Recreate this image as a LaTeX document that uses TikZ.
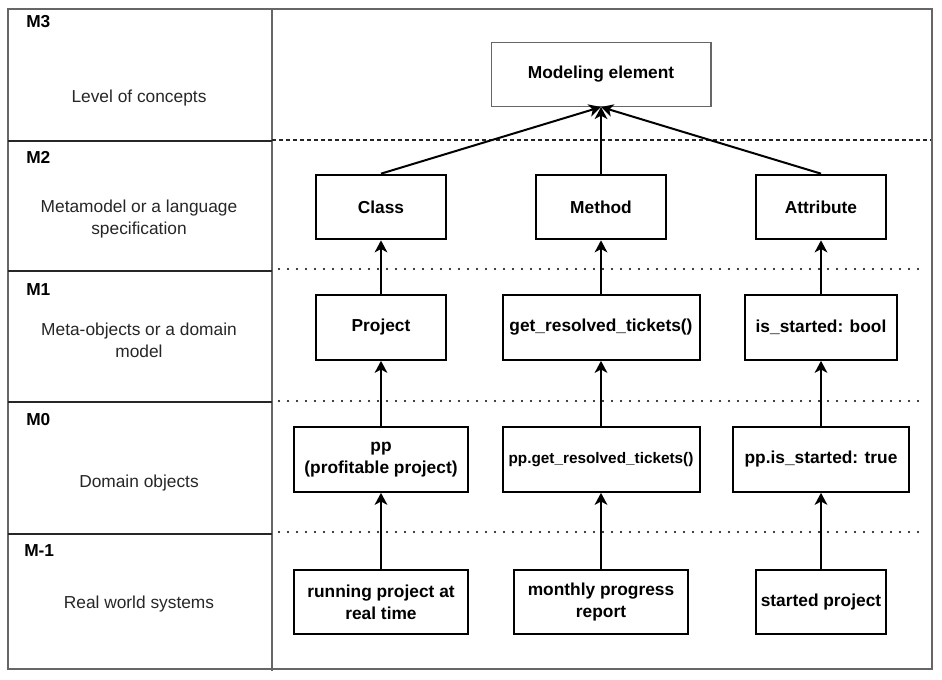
\documentclass[tikz,border=0pt]{standalone}
\usepackage{fontspec}
\setmainfont{Liberation Sans}
\usetikzlibrary{arrows.meta}

\begin{document}
\begin{tikzpicture}[x=0.75pt,y=-0.75pt,
    every node/.style={font=\fontsize{13}{16.5}\selectfont, align=center},
    level/.style={font=\fontsize{13}{16.5}\selectfont\bfseries, anchor=west, inner sep=0pt},
    desc/.style={text=black!85},
    elem/.style={draw, line width=1.5pt, minimum width=97.5pt, minimum height=48.5pt, inner sep=2pt,
        font=\fontsize{13}{16.5}\selectfont\bfseries},
    topelem/.style={elem, draw=black!60, line width=1pt, minimum width=164.75pt, minimum height=47.75pt},
    frame/.style={draw=black!60, line width=1pt},
    rowline/.style={draw=black!85, line width=1pt},
    dashsep/.style={draw=black!85, line width=0.8pt, dash pattern=on 3pt off 2.25pt},
    dotsep/.style={draw=black, line width=1.8pt, line cap=round, dash pattern=on 0pt off 6.75pt},
    arr/.style={draw, line width=1.5pt, -{Stealth[length=9pt, width=9.5pt, inset=2.5pt]}}]
    \useasboundingbox (0,0) rectangle (942,679);

    % frame and level rows
    \path[frame] (8,9) rectangle (932,669);
    \path[frame] (272,9) -- (272,671);
    \path[rowline] (8,141) -- (272,141);
    \path[rowline] (8,271) -- (272,271);
    \path[rowline] (8,402) -- (272,402);
    \path[rowline] (8,534) -- (272,534);
    \path[dashsep] (272,140) -- (931,140);
    \path[dotsep] (279,269) -- (927,269);
    \path[dotsep] (279,401) -- (927,401);
    \path[dotsep] (279,532) -- (927,532);

    % level names
    \node[level] (m3) at (26,22) {M3};
    \node[level] (m2) at (26,157) {M2};
    \node[level] (m1) at (26,290) {M1};
    \node[level] (m0) at (26,420) {M0};
    \node[level] (mm1) at (24,551) {M-1};
    \node[desc] (d3) at (139,98) {Level of concepts};
    \node[desc] (d2) at (139,219) {Metamodel or a language\\specification};
    \node[desc] (d1) at (139,340) {Meta-objects or a domain\\model};
    \node[desc] (d0) at (139,483) {Domain objects};
    \node[desc] (dm1) at (139,604) {Real world systems};

    % elements
    \node[topelem] (model) at (601,74.5) {Modeling element};
    \node[elem] (class) at (381,207) {Class};
    \node[elem] (method) at (601,207) {Method};
    \node[elem] (attr) at (821,207) {Attribute};
    \node[elem] (project) at (381,327.5) {Project};
    \node[elem, minimum width=147.75pt] (tickets) at (601,327.5) {get\_resolved\_tickets()};
    \node[elem, minimum width=114pt] (started) at (821,327.5) {is\_started: bool};
    \node[elem, minimum width=130.5pt] (pp) at (381,459.5) {pp\\(profitable project)};
    \node[elem, minimum width=147.75pt, font=\fontsize{11.5}{14}\selectfont\bfseries] (pptickets) at (601,459.5) {pp.get\_resolved\_tickets()};
    \node[elem, minimum width=132pt] (ppstarted) at (821,459.5) {pp.is\_started: true};
    \node[elem, minimum width=130.5pt] (running) at (381,602) {running project at\\real time};
    \node[elem, minimum width=130.5pt] (report) at (601,602) {monthly progress\\report};
    \node[elem] (startedp) at (821,602) {started project};

    \path[arr] (class.north) -- (model.south);
    \path[arr] (method.north) -- (model.south);
    \path[arr] (attr.north) -- (model.south);
    \path[arr] (project) -- (class);
    \path[arr] (tickets) -- (method);
    \path[arr] (started) -- (attr);
    \path[arr] (pp) -- (project);
    \path[arr] (pptickets) -- (tickets);
    \path[arr] (ppstarted) -- (started);
    \path[arr] (running) -- (pp);
    \path[arr] (report) -- (pptickets);
    \path[arr] (startedp) -- (ppstarted);
\end{tikzpicture}
\end{document}
